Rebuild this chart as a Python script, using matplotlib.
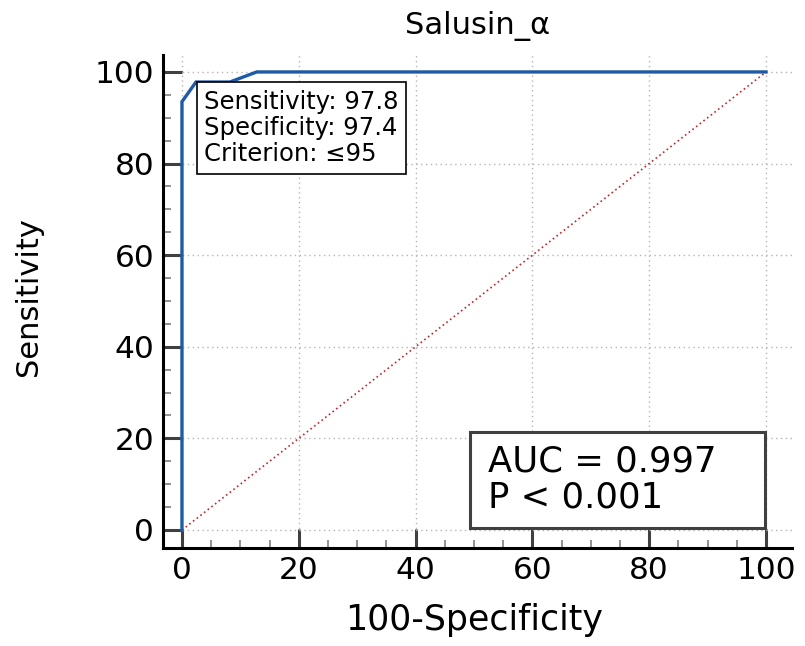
import matplotlib
matplotlib.use("Agg")
import matplotlib.pyplot as plt
from matplotlib.ticker import MultipleLocator
from matplotlib.patches import Rectangle

# ---- data ----
title = "Salusin_α"
x_label = "100-Specificity"
y_label = "Sensitivity"
fpr = [0, 0, 2.4, 8.2, 12.8, 100]          # 100 - specificity
sens = [0, 93.5, 97.8, 97.8, 100, 100]     # sensitivity
ref_x = [0, 100]
ref_y = [0, 100]
tick_vals = [0, 20, 40, 60, 80, 100]
cut_x, cut_y = 2.4, 97.8
cut_text = "Sensitivity: 97.8\nSpecificity: 97.4\nCriterion: ≤95"
auc_text = "AUC = 0.997\nP < 0.001"

W, H = 805, 646
fig = plt.figure(figsize=(W / 100, H / 100), dpi=100)
ax = fig.add_axes([162.7 / W, 1 - 548 / H, (792 - 162.7) / W, (548 - 55) / H])
ax.set_xlim(-3.3, 104.45)
ax.set_ylim(-3.93, 103.7)

ax.grid(True, which="major", ls=(0, (1, 2.5)), color="#b5b5b5", lw=1.0, zorder=0)
ax.plot(ref_x, ref_y, ls=(0, (1, 1.8)), color="#c0282d", lw=1.2, zorder=2)
ax.plot(fpr, sens, color="#1f5aa6", lw=2.4, zorder=3, solid_joinstyle="miter")

ax.set_xticks(tick_vals)
ax.set_yticks(tick_vals)
ax.xaxis.set_minor_locator(MultipleLocator(5))
ax.yaxis.set_minor_locator(MultipleLocator(5))
ax.tick_params(which="major", direction="in", length=13.7, width=2.2,
               color="#404040", labelsize=22.5, pad=6)
ax.tick_params(which="minor", direction="in", length=6, width=1.2, color="#808080")

for s in ["top", "right"]:
    ax.spines[s].set_visible(False)
for s in ["left", "bottom"]:
    ax.spines[s].set_linewidth(2.2)
    ax.spines[s].set_color("black")

ax.set_title(title, fontsize=22, pad=15)
ax.set_xlabel(x_label, fontsize=25)
ax.xaxis.set_label_coords(0.4947, -0.112)
ax.set_ylabel(y_label, fontsize=22)
ax.yaxis.set_label_coords(-0.19, 0.511)

# criterion box anchored at the cut-off point
ax.annotate(cut_text, xy=(cut_x, cut_y), xytext=(6, -5.5), textcoords="offset points",
            ha="left", va="top", fontsize=17.5, linespacing=1.12, zorder=5,
            bbox=dict(boxstyle="square,pad=0.3", fc="white", ec="black", lw=1.2))

# AUC box
ax.add_patch(Rectangle((49.3, 0.4), 50.5, 21.0, fc="white", ec="#404040", lw=2.2, zorder=5))
ax.text(52.4, 11.0, auc_text, ha="left", va="center", fontsize=25.5, linespacing=1.05, zorder=6)

fig.savefig("out.png", dpi=100)
